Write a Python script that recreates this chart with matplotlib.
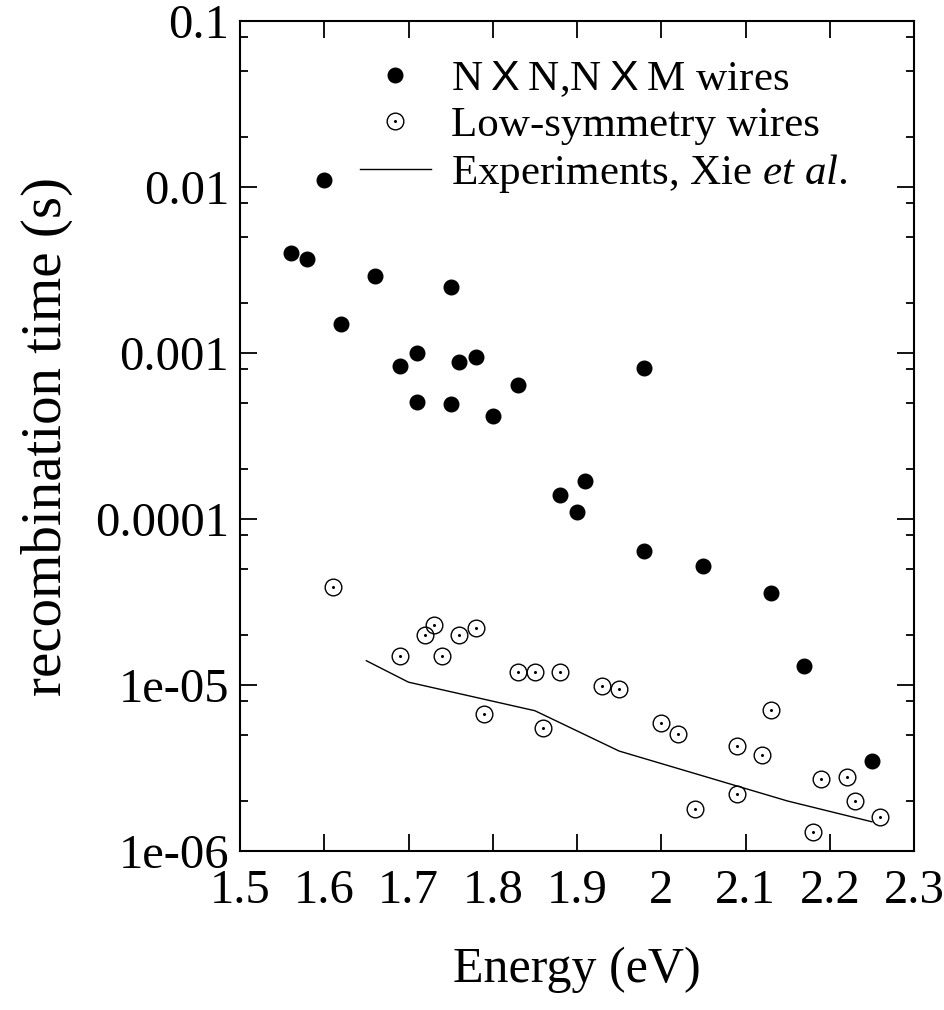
import matplotlib
matplotlib.use("Agg")
import matplotlib.pyplot as plt
import numpy as np
from matplotlib.ticker import LogLocator, FixedLocator, NullFormatter, FixedFormatter
from matplotlib.legend_handler import HandlerTuple

plt.rcParams['font.family'] = ['Liberation Serif', 'DejaVu Serif']
plt.rcParams['mathtext.fontset'] = 'custom'
plt.rcParams['mathtext.rm'] = 'Liberation Serif'
plt.rcParams['mathtext.it'] = 'Liberation Serif:italic'
plt.rcParams['mathtext.sf'] = 'Liberation Sans'

# N x N, N x M wires (filled)
sym_E = [1.60, 1.56, 1.58, 1.66, 1.75, 1.62, 1.71, 1.69, 1.76, 1.78, 1.98, 1.83,
         1.71, 1.75, 1.80, 1.91, 1.88, 1.90, 1.98, 2.05, 2.13, 2.17, 2.25]
sym_t = [1.10e-2, 4.0e-3, 3.7e-3, 2.9e-3, 2.5e-3, 1.5e-3, 1.0e-3, 8.3e-4, 8.8e-4, 9.5e-4, 8.1e-4, 6.4e-4,
         5.1e-4, 4.9e-4, 4.2e-4, 1.7e-4, 1.4e-4, 1.1e-4, 6.4e-5, 5.2e-5, 3.6e-5, 1.3e-5, 3.5e-6]

# Low-symmetry wires (open)
low_E = [1.61, 1.69, 1.72, 1.73, 1.74, 1.76, 1.78, 1.79, 1.83, 1.85, 1.86, 1.88, 1.93, 1.95,
         2.00, 2.02, 2.04, 2.09, 2.09, 2.12, 2.13, 2.18, 2.19, 2.22, 2.23, 2.26]
low_t = [3.9e-5, 1.5e-5, 2.0e-5, 2.3e-5, 1.5e-5, 2.0e-5, 2.2e-5, 6.7e-6, 1.2e-5, 1.2e-5, 5.5e-6, 1.2e-5, 9.8e-6, 9.4e-6,
         5.9e-6, 5.1e-6, 1.8e-6, 4.3e-6, 2.2e-6, 3.8e-6, 7.1e-6, 1.3e-6, 2.7e-6, 2.8e-6, 2.0e-6, 1.6e-6]

# Experiments, Xie et al.
exp_E = [1.65, 1.70, 1.85, 1.95, 2.15, 2.25]
exp_t = [1.40e-5, 1.04e-5, 7.0e-6, 4.0e-6, 2.0e-6, 1.5e-6]

xticks = [1.5, 1.6, 1.7, 1.8, 1.9, 2.0, 2.1, 2.2, 2.3]
xticklabels = ['1.5', '1.6', '1.7', '1.8', '1.9', '2', '2.1', '2.2', '2.3']
yticks = [1e-6, 1e-5, 1e-4, 1e-3, 1e-2, 1e-1]
yticklabels = ['1e-06', '1e-05', '0.0001', '0.001', '0.01', '0.1']

fig = plt.figure(figsize=(9.44, 10.10), dpi=100)
ax = fig.add_axes([240/944, 159/1010, 674/944, 830/1010])

ax.set_yscale('log')
ax.set_xlim(1.5, 2.3)
ax.set_ylim(1e-6, 0.1)

l_sym, = ax.plot(sym_E, sym_t, linestyle='none', marker='o', color='black',
                 markersize=10.5)
l_low, = ax.plot(low_E, low_t, linestyle='none', marker='o', markerfacecolor='none',
                 markeredgecolor='black', markeredgewidth=1.0, markersize=12)
l_dot, = ax.plot(low_E, low_t, linestyle='none', marker='o', color='black',
                 markersize=1.2)
l_exp, = ax.plot(exp_E, exp_t, color='black', linewidth=1.0)

ax.xaxis.set_major_locator(FixedLocator(xticks))
ax.xaxis.set_major_formatter(FixedFormatter(xticklabels))
ax.yaxis.set_major_locator(FixedLocator(yticks))
ax.yaxis.set_major_formatter(FixedFormatter(yticklabels))
ax.yaxis.set_minor_locator(LogLocator(base=10, subs=(2.0, 5.0, 8.0), numticks=20))
ax.yaxis.set_minor_formatter(NullFormatter())

ax.tick_params(which='both', direction='in', top=True, right=True, labelsize=35, colors='black')
ax.tick_params(which='major', length=12, width=1.3)
ax.tick_params(which='minor', length=6, width=1.3)
ax.tick_params(axis='x', pad=13)
ax.tick_params(axis='y', pad=8)
for s in ax.spines.values():
    s.set_linewidth(1.5)

ax.set_xlabel('Energy (eV)', fontsize=36, labelpad=24)
ax.set_ylabel('recombination time (s)', fontsize=41, labelpad=16)

handles = [l_sym, (l_low, l_dot), l_exp]
labels = ['N$\\;\\mathsf{X}\\;$N,N$\\;\\mathsf{X}\\;$M wires', 'Low-symmetry wires',
          'Experiments, Xie $\\it{et\\ al.}$']
leg = ax.legend(handles, labels, loc='upper right', bbox_to_anchor=(0.94, 0.985),
                frameon=False, fontsize=31, handlelength=1.67, handletextpad=0.46,
                labelspacing=0.16, borderaxespad=0.2,
                handler_map={tuple: HandlerTuple(ndivide=1, pad=0)})

fig.savefig('out.png', dpi=100)
